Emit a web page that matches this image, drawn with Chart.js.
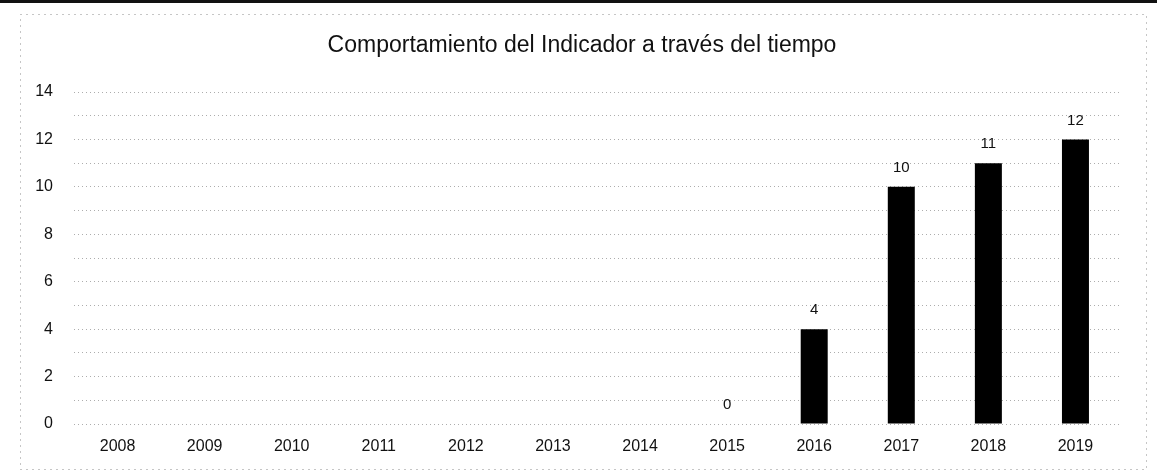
<!DOCTYPE html>
<html lang="es">
<head>
<meta charset="utf-8">
<title>Comportamiento del Indicador</title>
<script src="https://cdn.jsdelivr.net/npm/chart.js@4.4.1/dist/chart.umd.min.js"></script>
<style>
  html, body { margin: 0; padding: 0; background: #ffffff; }
  #wrap { position: relative; width: 1157px; height: 472px; }
  canvas { display: block; }
</style>
</head>
<body>
<div id="wrap"><canvas id="grafico" width="1157" height="472"></canvas></div>
<script>
// Años del periodo y valores del indicador (null = sin dato)
const anios = ['2008', '2009', '2010', '2011', '2012', '2013', '2014', '2015', '2016', '2017', '2018', '2019'];
const indicador = [null, null, null, null, null, null, null, 0, 4, 10, 11, 12];
const ejeY = { min: 0, max: 14, paso: 2 };
const titulo = 'Comportamiento del Indicador a través del tiempo';

const FUENTE = '"Liberation Sans", Arial, sans-serif';

// Marco punteado del gráfico y línea superior
const marco = {
  id: 'marco',
  beforeDraw(chart) {
    const ctx = chart.ctx;
    ctx.save();
    ctx.fillStyle = '#ffffff';
    ctx.fillRect(0, 0, chart.width, chart.height);
    ctx.strokeStyle = '#111';
    ctx.lineWidth = 3;
    ctx.beginPath();
    ctx.moveTo(0, 1.5);
    ctx.lineTo(chart.width, 1.5);
    ctx.stroke();
    ctx.strokeStyle = 'rgba(0,0,0,0.45)';
    ctx.lineWidth = 1;
    ctx.setLineDash([1, 5]);
    ctx.strokeRect(20.5, 14.5, 1126, 455);
    ctx.restore();
  }
};

// Título centrado sobre el gráfico
const tituloPlugin = {
  id: 'tituloPlugin',
  afterDraw(chart) {
    const ctx = chart.ctx;
    ctx.save();
    ctx.font = '23px ' + FUENTE;
    ctx.fillStyle = '#111';
    ctx.textAlign = 'center';
    ctx.textBaseline = 'middle';
    ctx.fillText(titulo, 582, 46);
    ctx.restore();
  }
};

// Etiquetas de valor encima de cada barra
const etiquetas = {
  id: 'etiquetas',
  afterDatasetsDraw(chart) {
    const ctx = chart.ctx;
    const meta = chart.getDatasetMeta(0);
    ctx.save();
    ctx.font = '15px ' + FUENTE;
    ctx.fillStyle = '#111';
    ctx.textAlign = 'center';
    ctx.textBaseline = 'middle';
    meta.data.forEach((barra, i) => {
      const v = indicador[i];
      if (v === null || v === undefined) return;
      const y = chart.scales.y.getPixelForValue(v);
      ctx.fillText(String(v), barra.x, y - 19);
    });
    ctx.restore();
  }
};

new Chart(document.getElementById('grafico'), {
  type: 'bar',
  data: {
    labels: anios,
    datasets: [{
      label: 'Indicador',
      data: indicador,
      backgroundColor: '#000000',
      borderWidth: 0,
      categoryPercentage: 1,
      barPercentage: 0.31
    }]
  },
  options: {
    responsive: false,
    animation: false,
    layout: { padding: { top: 92, right: 38, bottom: 16, left: 20 } },
    plugins: {
      legend: { display: false },
      title: { display: false },
      tooltip: { enabled: false }
    },
    scales: {
      x: {
        offset: true,
        afterFit(scale) { scale.height = 32; },
        grid: { display: false, drawTicks: false },
        border: { display: false },
        ticks: {
          color: '#111',
          font: { family: FUENTE, size: 16 },
          padding: 13,
          maxRotation: 0,
          autoSkip: false
        }
      },
      y: {
        min: ejeY.min,
        max: ejeY.max,
        afterFit(scale) { scale.width = 54; },
        border: { display: false, dash: [1, 3] },
        grid: {
          color: 'rgba(0,0,0,0.32)',
          lineWidth: 1,
          drawTicks: false
        },
        ticks: {
          stepSize: 1,
          color: '#111',
          font: { family: FUENTE, size: 16 },
          padding: 21,
          callback: (v) => (v % ejeY.paso === 0 ? v : '')
        }
      }
    }
  },
  plugins: [marco, tituloPlugin, etiquetas]
});
</script>
</body>
</html>
